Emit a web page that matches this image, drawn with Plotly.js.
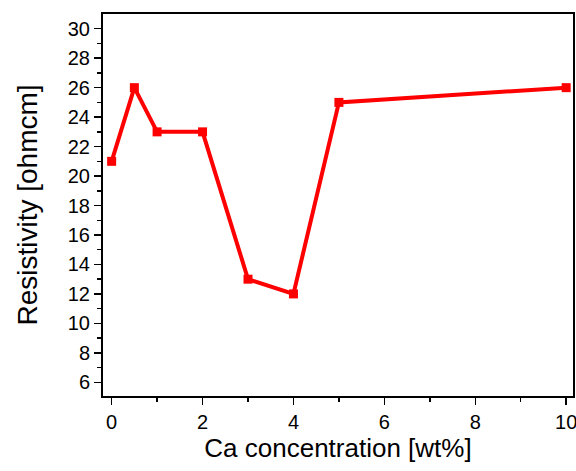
<!DOCTYPE html>
<html>
<head>
<meta charset="utf-8">
<script src="https://cdn.plot.ly/plotly-3.0.1.min.js"></script>
<style>html,body{margin:0;padding:0;background:#fff;}#chart{width:576px;height:471px;}</style>
</head>
<body>
<div id="chart"></div>
<script>
const caConc = [0, 0.5, 1, 2, 3, 4, 5, 10];
const resistivity = [21, 26, 23, 23, 13, 12, 25, 26];
const xTicks = [0, 2, 4, 6, 8, 10];
const yTicks = [6, 8, 10, 12, 14, 16, 18, 20, 22, 24, 26, 28, 30];

const trace = {
  x: caConc, y: resistivity, type: 'scatter', mode: 'lines+markers',
  line: {color: '#ff0000', width: 4},
  marker: {symbol: 'square', size: 9, color: '#ff0000'},
  cliponaxis: false
};
const font = {family: 'Liberation Sans, Arial, sans-serif', color: '#000'};
const layout = {
  width: 576, height: 471,
  margin: {l: 103, r: 3, t: 14, b: 75},
  paper_bgcolor: '#fff', plot_bgcolor: '#fff',
  showlegend: false,
  font: font,
  xaxis: {
    range: [-0.19, 10.15], tickvals: xTicks, ticktext: xTicks.map(String),
    ticks: 'outside', ticklen: 7, tickwidth: 1.5, tickcolor: '#000',
    ticklabeloverflow: 'allow',
    minor: {tickvals: [1,3,5,7,9], ticks: 'outside', ticklen: 4, tickwidth: 1.5, tickcolor: '#000'},
    showline: true, linecolor: '#000', linewidth: 2, mirror: true,
    showgrid: false, zeroline: false,
    tickfont: {size: 20, family: font.family, color: '#000'},
    title: {text: 'Ca concentration [wt%]', font: {size: 26, family: font.family, color: '#000'}, standoff: 7}
  },
  yaxis: {
    range: [5.07, 31.0], tickvals: yTicks, ticktext: yTicks.map(String),
    ticks: 'outside', ticklen: 7, tickwidth: 1.5, tickcolor: '#000',
    minor: {tickvals: [7,9,11,13,15,17,19,21,23,25,27,29], ticks: 'outside', ticklen: 4, tickwidth: 1.5, tickcolor: '#000'},
    showline: true, linecolor: '#000', linewidth: 2, mirror: true,
    showgrid: false, zeroline: false,
    tickfont: {size: 20, family: font.family, color: '#000'},
    title: {text: 'Resistivity [ohmcm]', font: {size: 28, family: font.family, color: '#000'}, standoff: 22}
  }
};
Plotly.newPlot('chart', [trace], layout, {displayModeBar: false, staticPlot: true});
</script>
</body>
</html>
